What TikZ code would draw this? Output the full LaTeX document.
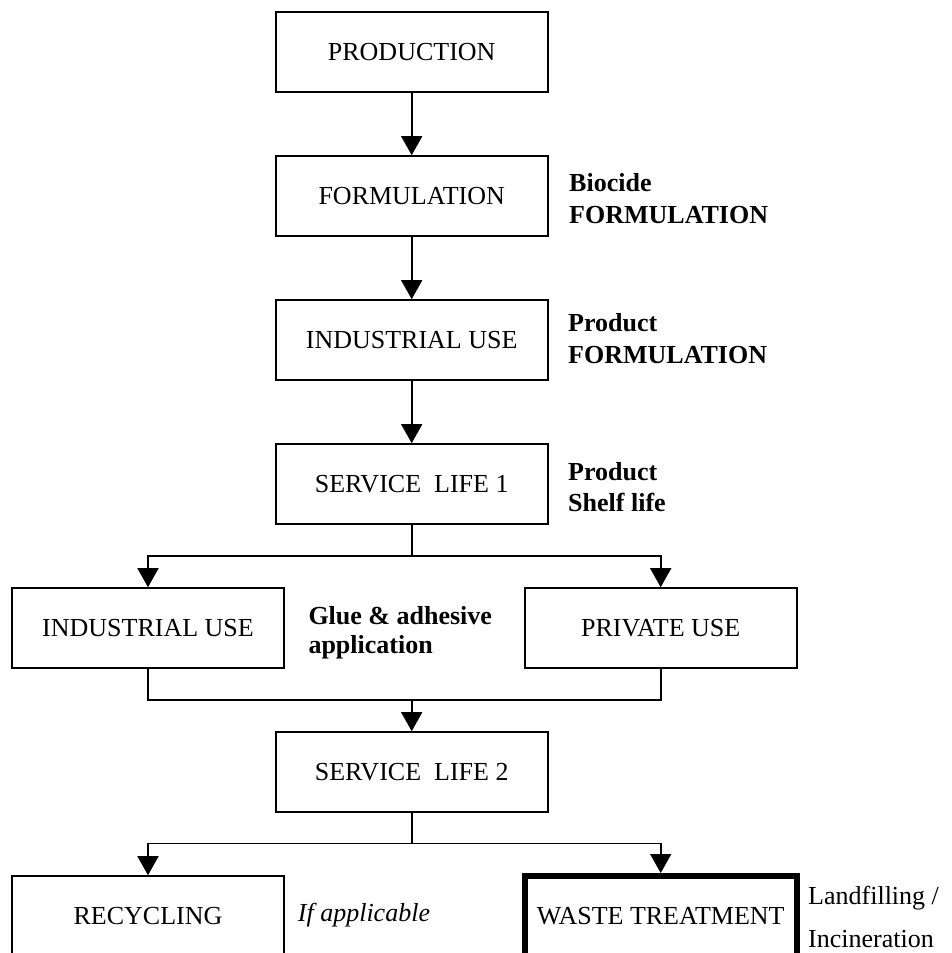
\documentclass[tikz,border=0pt]{standalone}
\usepackage{fontspec}
\setmainfont{Liberation Serif}
\usetikzlibrary{shapes,arrows.meta}
\tikzstyle{stage} = [rectangle, minimum width=272pt, minimum height=80pt, align=center, draw=black, line width=1.6pt, font=\fontsize{26}{31}\selectfont]
\tikzstyle{wastestage} = [stage, line width=6pt]
\tikzstyle{note} = [anchor=base west, inner sep=0pt, align=left, font=\fontsize{26}{31.6}\selectfont\bfseries]
\tikzstyle{plainnote} = [anchor=base west, inner sep=0pt, align=left, font=\fontsize{26}{43}\selectfont]
\tikzstyle{line} = [line width=1.6pt]
\tikzstyle{arrow} = [line, -{Triangle[width=21pt,length=19pt]}]

\begin{document}
\begin{tikzpicture}[x=1pt,y=-1pt,node distance=144pt]
\useasboundingbox (0,0) rectangle (951,953);

\node (prod) [stage] at (411.7,52) {PRODUCTION};
\node (form) [stage, below of=prod] {FORMULATION};
\node (induse) [stage, below of=form] {INDUSTRIAL USE};
\node (sl1) [stage, below of=induse] {SERVICE\ \ LIFE 1};
\node (indapp) [stage, below of=sl1, xshift=-263.7pt] {INDUSTRIAL USE};
\node (privuse) [stage, below of=sl1, xshift=249pt] {PRIVATE USE};
\node (sl2) [stage, below of=sl1, yshift=-144pt] {SERVICE\ \ LIFE 2};
\node (recyc) [stage, below of=sl2, xshift=-263.7pt] {RECYCLING};
\node (waste) [wastestage, below of=sl2, xshift=249pt] {WASTE TREATMENT};

% side notes, anchored on the baseline of their last line
\node (bioc) [note] at (569,223.3) {Biocide\\FORMULATION};
\node (prodform) [note] at (568,363.3) {Product\\FORMULATION};
\node (shelf) [note] at (568,511.7) {Product\\Shelf life};
\node (glue) [note, font=\fontsize{26}{29}\selectfont\bfseries] at (308.3,653) {Glue \& adhesive\\application};
\node (ifapp) [plainnote, font=\fontsize{26}{31}\selectfont\itshape] at (297.7,921) {If applicable};
\node (landfill) [plainnote] at (808,947) {Landfilling /\\Incineration};

\coordinate (split1) at (411.7,555.7);
\coordinate (join1) at (411.7,700);
\coordinate (split2) at (411.7,843.3);

\draw [arrow] (prod) -- (form);
\draw [arrow] (form) -- (induse);
\draw [arrow] (induse) -- (sl1);
\draw [line] (sl1) -- (split1);
\draw [arrow] (split1) -| (indapp);
\draw [arrow] (split1) -| (privuse);
\draw [line] (indapp) |- (join1);
\draw [line] (privuse) |- (join1);
\draw [arrow] (join1) -- (sl2);
\draw [line] (sl2) -- (split2);
\draw [arrow] (split2) -| (recyc);
\draw [arrow] (split2) -| (waste);

\end{tikzpicture}
\end{document}
